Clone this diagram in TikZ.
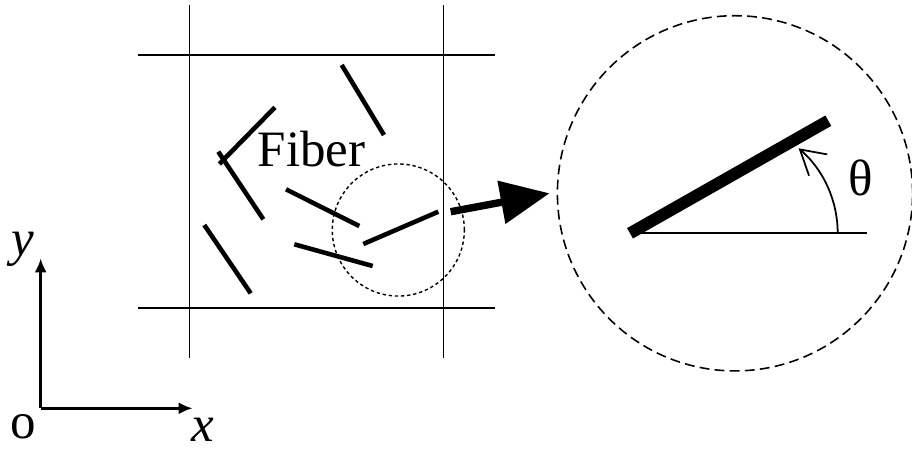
\documentclass[tikz,border=0pt]{standalone}
\usepackage{fontspec}
\setmainfont{Liberation Serif}
\usetikzlibrary{arrows.meta, positioning}
\tikzset{
  grid/.style={line width=0.45pt},
  fib/.style={line width=1.3pt},
  bigfib/.style={line width=3.4pt},
  lens/.style={circle, draw, inner sep=0pt, dash pattern=on 0.95pt off 0.8pt,
               line width=0.4pt},
  zoomc/.style={circle, draw, inner sep=0pt, dash pattern=on 2.8pt off 1.5pt,
                line width=0.45pt},
  lbl/.style={font=\fontsize{14.5}{16}\selectfont, inner sep=0pt, anchor=base},
  axis/.style={-{Latex[length=1.4mm, width=1.2mm]}, line width=0.85pt},
  bigarrow/.style={-{Triangle[length=4.9mm, width=4.2mm]}, line width=2.1pt},
  ang/.style={-{Straight Barb[length=2.4mm, width=2.8mm]}, line width=0.5pt}
}
\begin{document}
\begin{tikzpicture}[x=0.01cm, y=-0.01cm]
  \useasboundingbox (0,0) rectangle (912,448);
  % cell boundaries
  \foreach \gx in {189.3, 443.3} \draw[grid] (\gx,5) -- (\gx,358);
  \foreach \gy in {55, 308} \draw[grid] (138,\gy) -- (495,\gy);
  % fibers
  \foreach \ax/\ay/\bx/\by in {341.7/65/384/135, 275/107.3/219.3/164,
      218.3/151.7/263.3/219.3, 204.3/225/250.7/293.3, 286/189.3/359.3/226,
      363.3/244/438.3/211.7, 294.3/244.3/372.7/266}
    \draw[fib] (\ax,\ay) -- (\bx,\by);
  \node[lbl] (fiber) at (311.7,166.7) {Fiber};
  \node[lens, minimum size=1.32cm] (small) at (398.3,230) {};
  % enlarged view
  \node[zoomc, minimum size=3.55cm] (big) at (735,193.3) {};
  \coordinate (a0) at (450.7,211.7);
  \draw[bigarrow] (a0) -- ([xshift=-0.07cm]big.west);
  \coordinate (f0) at (630,233.3);
  \coordinate (f1) at (828.3,120.7);
  \coordinate (h1) at (866.7,233.3);
  \draw[bigfib] (f0) -- (f1);
  \draw[line width=0.5pt] (f0) -- (h1);
  \coordinate (ab) at (837.7,233.3);
  \draw[ang] (ab) arc[start angle=0, end angle=-49.4, radius=112];
  \node[lbl] (theta) at (861,195) {θ};
  % axes
  \coordinate (o) at (40.7,408.3);
  \coordinate (ya) at (40.7,258.3);
  \coordinate (xa) at (192.7,408.3);
  \draw[axis] (o) -- (ya);
  \draw[axis] (o) -- (xa);
  \node[lbl] (ylab) at (23,255.5) {\textit{y}};
  \node[lbl] (olab) at (23.3,438) {o};
  \node[lbl] (xlab) at (203,441.7) {\textit{x}};
\end{tikzpicture}
\end{document}
